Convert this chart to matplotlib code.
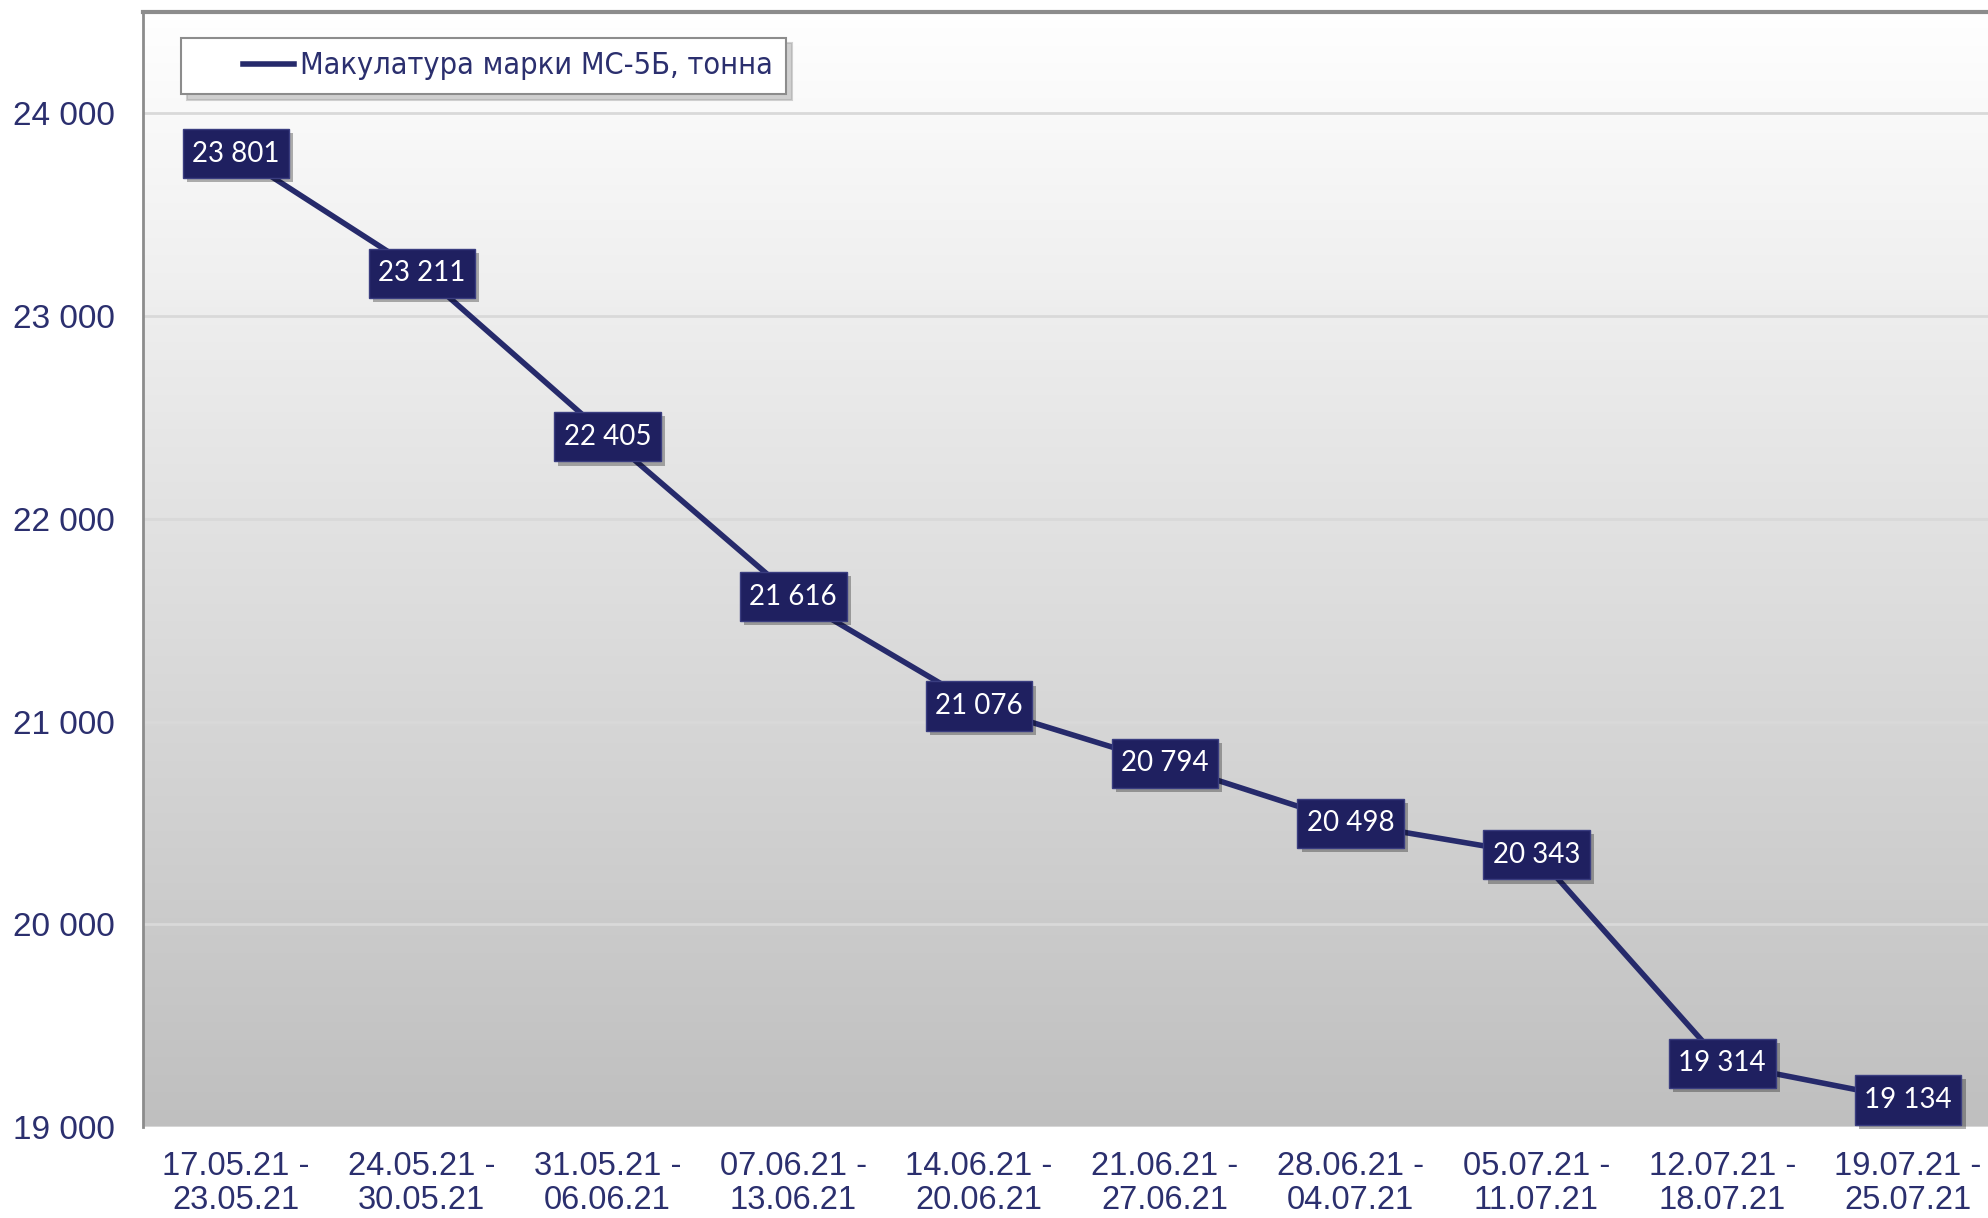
import matplotlib
matplotlib.use('Agg')
import matplotlib.pyplot as plt
import matplotlib.patheffects as pe
from matplotlib.colors import LinearSegmentedColormap
from matplotlib.legend_handler import HandlerLine2D
from matplotlib.path import Path
import numpy as np

# data
weeks = ['17.05.21 -\n23.05.21', '24.05.21 -\n30.05.21', '31.05.21 -\n06.06.21',
         '07.06.21 -\n13.06.21', '14.06.21 -\n20.06.21', '21.06.21 -\n27.06.21',
         '28.06.21 -\n04.07.21', '05.07.21 -\n11.07.21', '12.07.21 -\n18.07.21',
         '19.07.21 -\n25.07.21']
prices = [23801, 23211, 22405, 21616, 21076, 20794, 20498, 20343, 19314, 19134]
series_name = 'Макулатура марки МС-5Б, тонна'
y_ticks = [19000, 20000, 21000, 22000, 23000, 24000]

navy = '#262a6b'
box_col = '#1f2060'
txt_col = '#2b2f6e'

def fmt(v):
    return '{:,}'.format(v).replace(',', ' ')

# label box: a bit more vertical padding than horizontal
def label_box(x0, y0, width, height, mutation_size):
    px, py = 0.34 * mutation_size, 0.42 * mutation_size
    x0, y0 = x0 - px, y0 - py
    x1, y1 = x0 + width + 2 * px, y0 + height + 2 * py
    return Path([(x0, y0), (x1, y0), (x1, y1), (x0, y1), (x0, y0)],
                [Path.MOVETO, Path.LINETO, Path.LINETO, Path.LINETO, Path.CLOSEPOLY])

fig = plt.figure(figsize=(19.88, 12.18), dpi=100)
ax = fig.add_axes([0.0719, 0.0747, 0.9281, 0.9155])

x = np.arange(len(prices))
ymin, ymax = 19000, 24500
xmin, xmax = -0.5, 9.43

# gradient background
cmap = LinearSegmentedColormap.from_list('bg', ['#ffffff', '#bfbfbf'])
grad = np.linspace(0, 1, 256).reshape(-1, 1)
ax.imshow(grad, cmap=cmap, extent=[xmin, xmax, ymin, ymax], aspect='auto', zorder=0)

ax.set_xlim(xmin, xmax)
ax.set_ylim(ymin, ymax)

for yv in y_ticks:
    ax.axhline(yv, color='#d9d9d9', lw=2, zorder=1)

line, = ax.plot(x, prices, color=navy, lw=4, zorder=3, label=series_name)

for xi, v in zip(x, prices):
    t = ax.text(xi, v, fmt(v), ha='center', va='center', color='white',
                fontsize=20, family=['Lato', 'DejaVu Sans'], zorder=5,
                bbox=dict(boxstyle=label_box, fc=box_col, ec='#3a3d80', lw=1))
    t.get_bbox_patch().set_path_effects([
        pe.SimplePatchShadow(offset=(3, -3), shadow_rgbFace='k', alpha=0.3),
        pe.Normal()])

ax.set_yticks(y_ticks)
ax.set_yticklabels([fmt(v) for v in y_ticks])
ax.set_xticks(x)
ax.set_xticklabels(weeks, linespacing=1.15)
ax.tick_params(axis='y', length=0, pad=20, labelsize=24, labelcolor=txt_col)
ax.tick_params(axis='x', length=0, pad=17, labelsize=23.5, labelcolor=txt_col)
for lab in ax.get_xticklabels() + ax.get_yticklabels():
    lab.set_family(['Liberation Sans', 'DejaVu Sans'])

for s in ['right', 'bottom']:
    ax.spines[s].set_visible(False)
ax.spines['left'].set_color('#8c8c8c')
ax.spines['left'].set_linewidth(2)
ax.spines['top'].set_color('#8c8c8c')
ax.spines['top'].set_linewidth(3)

leg = ax.legend(loc='upper left', bbox_to_anchor=(0.0206, 0.977), borderaxespad=0,
                frameon=True, fancybox=False, shadow={'ox': 4, 'oy': -4, 'color': '#a6a6a6'},
                prop={'family': 'DejaVu Sans', 'stretch': 'condensed', 'size': 22},
                handler_map={line: HandlerLine2D(xpad=1.57)},
                handlelength=3.24, handletextpad=0.2, borderpad=0.45)
leg.get_frame().set_edgecolor('#8c8c8c')
leg.get_frame().set_linewidth(1.5)
for t in leg.get_texts():
    t.set_color(txt_col)

fig.savefig('out.png', dpi=100)
